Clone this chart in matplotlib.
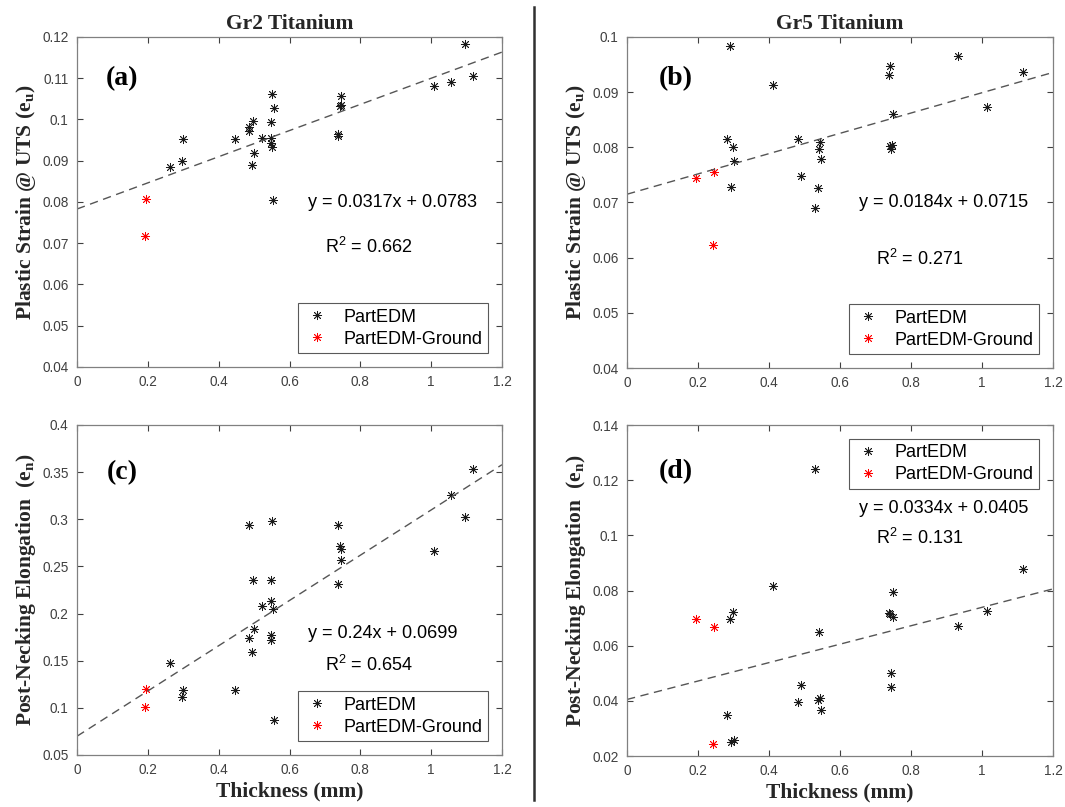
import matplotlib
matplotlib.use('Agg')
import matplotlib.pyplot as plt
from matplotlib.ticker import FuncFormatter
import numpy as np

plt.rcParams['font.family'] = 'Liberation Sans'
plt.rcParams['mathtext.fontset'] = 'custom'
plt.rcParams['mathtext.rm'] = 'Liberation Sans'
plt.rcParams['mathtext.bf'] = 'Liberation Serif:bold'

# Gr2 thickness (mm) - PartEDM
gr2_x = [1.096, 1.117, 1.008, 1.057, 0.550, 0.555, 0.745, 0.745, 0.742, 0.547, 0.497,
         0.485, 0.487, 0.299, 0.446, 0.521, 0.547, 0.549, 0.550, 0.738, 0.738, 0.500,
         0.495, 0.296, 0.262, 0.552]
gr2_strain = [0.1184, 0.1106, 0.1081, 0.1090, 0.1062, 0.1027, 0.1056, 0.1036, 0.1032, 0.0994,
              0.0996, 0.0982, 0.0972, 0.0952, 0.0952, 0.0954, 0.0954, 0.0942, 0.0934, 0.0966,
              0.0960, 0.0918, 0.0890, 0.0899, 0.0885, 0.0804]
gr2_neck_x = [1.117, 1.057, 1.096, 1.008, 0.487, 0.550, 0.738, 0.742, 0.745, 0.745, 0.738,
              0.497, 0.547, 0.549, 0.521, 0.552, 0.500, 0.485, 0.547, 0.549, 0.495, 0.262,
              0.299, 0.296, 0.446, 0.555]
gr2_neck = [0.3532, 0.3253, 0.3024, 0.2661, 0.2936, 0.2982, 0.2936, 0.2714, 0.2690, 0.2573,
            0.2312, 0.2354, 0.2354, 0.2132, 0.2079, 0.2044, 0.1839, 0.1746, 0.1774, 0.1719,
            0.1596, 0.1479, 0.1187, 0.1110, 0.1187, 0.0870]
# Gr2 - PartEDM-Ground
gr2g_x = [0.194, 0.192]
gr2g_strain = [0.0807, 0.0718]
gr2g_neck = [0.1198, 0.1004]

# Gr5 - PartEDM
gr5_x = [0.289, 0.932, 0.740, 0.737, 1.116, 0.411, 1.014, 0.750, 0.282, 0.299, 0.301,
         0.482, 0.543, 0.542, 0.547, 0.746, 0.742, 0.743, 0.489, 0.292, 0.537, 0.530]
gr5_strain = [0.0984, 0.0965, 0.0948, 0.0931, 0.0937, 0.0913, 0.0874, 0.0860, 0.0816, 0.0801,
              0.0776, 0.0816, 0.0809, 0.0797, 0.0779, 0.0805, 0.0802, 0.0797, 0.0748, 0.0729,
              0.0727, 0.0690]
gr5_neck_x = [0.530, 1.116, 0.411, 0.748, 0.299, 0.289, 0.737, 0.742, 0.750, 1.014, 0.932,
              0.542, 0.744, 0.744, 0.489, 0.482, 0.543, 0.537, 0.547, 0.282, 0.292, 0.301]
gr5_neck = [0.1240, 0.0877, 0.0818, 0.0793, 0.0723, 0.0695, 0.0719, 0.0713, 0.0705, 0.0727,
            0.0671, 0.0651, 0.0501, 0.0449, 0.0457, 0.0394, 0.0412, 0.0402, 0.0367, 0.0348,
            0.0249, 0.0257]
# Gr5 - PartEDM-Ground
gr5g_x = [0.194, 0.245, 0.243]
gr5g_strain = [0.0745, 0.0756, 0.0623]
gr5g_neck_x = [0.194, 0.245, 0.243]
gr5g_neck = [0.0695, 0.0669, 0.0242]

# linear fits (slope, intercept, R^2)
fits = {'a': (0.0317, 0.0783, 0.662), 'b': (0.0184, 0.0715, 0.271),
        'c': (0.24, 0.0699, 0.654), 'd': (0.0334, 0.0405, 0.131)}

W, H = 1065, 807
fig = plt.figure(figsize=(W / 100, H / 100), dpi=100)

def px_axes(l, t, r, b):
    return fig.add_axes([l / W, 1 - b / H, (r - l) / W, (b - t) / H])

ax_a = px_axes(77, 37, 502, 367)
ax_b = px_axes(627, 37, 1053, 368)
ax_c = px_axes(77, 425, 502, 755)
ax_d = px_axes(627, 425, 1053, 756)

ast = (8, 2, 0)
gray = '#404040'
fmt = FuncFormatter(lambda v, p: '%g' % round(v, 4))

def panel(ax, x, y, xg, yg, key, ylim, yticks, eq_pos, r2_pos, lab_pos, leg_loc, ylabel):
    ax.plot(x, y, linestyle='none', marker=ast, color='#1a1a1a', markersize=6.5,
            markeredgewidth=0.6, label='PartEDM')
    ax.plot(xg, yg, linestyle='none', marker=ast, color='red', markersize=6.5,
            markeredgewidth=0.6, label='PartEDM-Ground')
    m, c, r2 = fits[key]
    xx = np.array([0, 1.2])
    ax.plot(xx, m * xx + c, linestyle=(0, (6, 4)), color='#555555', linewidth=1.0)
    ax.set_xlim(0, 1.2)
    ax.set_ylim(*ylim)
    ax.set_xticks(np.arange(0, 1.21, 0.2))
    ax.set_yticks(yticks)
    ax.xaxis.set_major_formatter(fmt)
    ax.yaxis.set_major_formatter(fmt)
    ax.tick_params(direction='in', length=4, width=0.8, color=gray, labelcolor=gray,
                   labelsize=9.8, top=True, right=True, pad=6)
    for s in ax.spines.values():
        s.set_color('#808080')
        s.set_linewidth(0.9)
    ax.text(eq_pos[0], eq_pos[1], 'y = %gx + %g' % (m, c), fontsize=13,
            ha='left', va='center', color='black')
    ax.text(r2_pos[0], r2_pos[1], 'R$^2$ = %g' % r2, fontsize=13,
            ha='left', va='center', color='black')
    ax.text(lab_pos[0], lab_pos[1], '(%s)' % key, transform=ax.transAxes,
            fontsize=20, fontweight='bold', family='Liberation Serif',
            ha='center', va='center')
    leg = ax.legend(loc=leg_loc, fontsize=13, frameon=True, fancybox=False,
                    edgecolor='#303030', labelspacing=0.28, handlelength=1.4,
                    handletextpad=0.8, borderpad=0.32, borderaxespad=0.75)
    leg.get_frame().set_linewidth(0.8)
    ax.set_ylabel(ylabel, fontsize=15.5, fontweight='bold', family='Liberation Serif',
                  color='#262626')
    ax.yaxis.set_label_coords(-0.092, 0.5)

panel(ax_a, gr2_x, gr2_strain, gr2g_x, gr2g_strain, 'a', (0.04, 0.12),
      np.arange(0.04, 0.1201, 0.01), (0.652, 0.0798), (0.700, 0.0692), (0.106, 0.873),
      'lower right', r'Plastic Strain @ UTS (e$_\mathbf{u}$)')
panel(ax_b, gr5_x, gr5_strain, gr5g_x, gr5g_strain, 'b', (0.04, 0.1),
      np.arange(0.04, 0.1001, 0.01), (0.654, 0.0700), (0.701, 0.0597), (0.115, 0.873),
      'lower right', r'Plastic Strain @ UTS (e$_\mathbf{u}$)')
panel(ax_c, gr2_neck_x, gr2_neck, gr2g_x, gr2g_neck, 'c', (0.05, 0.4),
      np.arange(0.05, 0.4001, 0.05), (0.652, 0.179), (0.700, 0.146), (0.106, 0.857),
      'lower right', r'Post-Necking Elongation  (e$_\mathbf{n}$)')
panel(ax_d, gr5_neck_x, gr5_neck, gr5g_neck_x, gr5g_neck, 'd', (0.02, 0.14),
      np.arange(0.02, 0.1401, 0.02), (0.654, 0.1096), (0.701, 0.0991), (0.115, 0.86),
      'upper right', r'Post-Necking Elongation  (e$_\mathbf{n}$)')

for ax in (ax_c, ax_d):
    ax.set_xlabel('Thickness (mm)', fontsize=15.5, fontweight='bold',
                  family='Liberation Serif', color='#262626', labelpad=3)

ax_a.set_title('Gr2 Titanium', fontsize=15.5, fontweight='bold',
               family='Liberation Serif', color='#262626', pad=6)
ax_b.set_title('Gr5 Titanium', fontsize=15.5, fontweight='bold',
               family='Liberation Serif', color='#262626', pad=6)

# separator line between the two materials
fig.add_artist(plt.Line2D([534 / W, 534 / W], [1 - 7 / H, 1 - 800 / H],
                          color='#303030', linewidth=1.8))

fig.savefig('out.png', dpi=100)
